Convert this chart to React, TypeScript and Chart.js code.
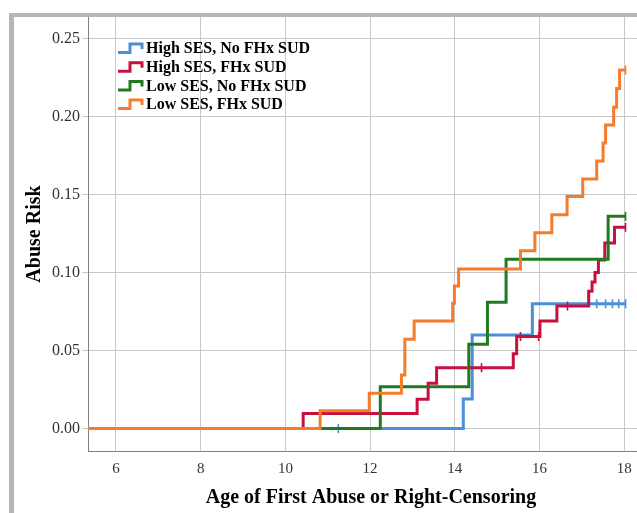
import React, { useEffect, useRef } from "react";
import { Chart, registerables } from "chart.js";

Chart.register(...registerables);

// ---- axes ----
const X_MIN = 5.34;
const X_MAX = 18.7;
const Y_MIN = -0.0144;
const Y_MAX = 0.2638;
const X_TICKS = [6, 8, 10, 12, 14, 16, 18];
const Y_TICKS = [0, 0.05, 0.1, 0.15, 0.2, 0.25];
const X_TITLE = "Age of First Abuse or Right-Censoring";
const Y_TITLE = "Abuse Risk";

// ---- series ----
const SERIES_LABELS = [
  "High SES, No FHx SUD",
  "High SES, FHx SUD",
  "Low SES, No FHx SUD",
  "Low SES, FHx SUD",
];
const SERIES_COLORS = ["#4a8fd8", "#c8103f", "#1f7a22", "#f47c2a"];

// event times and cumulative risk after each event
const BLUE_T = [14.2, 14.41, 15.83, 18.03];
const BLUE_Y = [0.019, 0.06, 0.08, 0.08];
const BLUE_CENSOR = [11.25, 17.35, 17.56, 17.72, 17.87, 18.03];

const RED_T = [10.42, 13.11, 13.37, 13.57, 15.38, 15.46, 16.01, 16.41, 17.16, 17.24, 17.31, 17.39, 17.54, 17.77, 18.03];
const RED_Y = [0.0097, 0.0187, 0.029, 0.039, 0.048, 0.059, 0.069, 0.0785, 0.088, 0.094, 0.1, 0.108, 0.119, 0.129, 0.129];
const RED_CENSOR = [14.63, 15.55, 15.98, 16.66, 18.03];

const GREEN_T = [12.24, 14.33, 14.77, 15.21, 17.62, 18.03];
const GREEN_Y = [0.0268, 0.054, 0.081, 0.1085, 0.136, 0.136];
const GREEN_CENSOR = [18.03];

const ORANGE_T = [10.82, 11.98, 12.74, 12.82, 13.04, 13.95, 13.99, 14.09, 15.55, 15.89, 16.29, 16.65, 17.02, 17.35, 17.5, 17.56, 17.75, 17.82, 17.89, 18.03];
const ORANGE_Y = [0.0114, 0.0226, 0.0343, 0.0572, 0.0689, 0.0803, 0.0913, 0.1022, 0.114, 0.1255, 0.137, 0.1487, 0.16, 0.1715, 0.183, 0.1946, 0.206, 0.218, 0.2298, 0.2298];
const ORANGE_CENSOR = [18.03];

const SERIES_T = [BLUE_T, RED_T, GREEN_T, ORANGE_T];
const SERIES_Y = [BLUE_Y, RED_Y, GREEN_Y, ORANGE_Y];
const SERIES_CENSOR = [BLUE_CENSOR, RED_CENSOR, GREEN_CENSOR, ORANGE_CENSOR];
const SERIES_ORDER = [3, 2, 1, 0];

const SERIF = "'Liberation Serif', 'Times New Roman', serif";

function stepValue(ts: number[], ys: number[], t: number): number {
  let v = 0;
  for (let i = 0; i < ts.length; i++) if (ts[i] <= t) v = ys[i];
  return v;
}

const framePlugin = {
  id: "frame",
  beforeDraw(chart: any) {
    const ctx = chart.ctx;
    ctx.save();
    ctx.fillStyle = "#b6b6b6";
    ctx.fillRect(9, 13, 5, 500);
    ctx.fillRect(9, 13, 660, 4);
    ctx.restore();
  },
};

const legendPlugin = {
  id: "kmLegend",
  afterDraw(chart: any) {
    const ctx = chart.ctx;
    ctx.save();
    const x0 = 118;
    const y0 = 49;
    const dy = 18.7;
    SERIES_LABELS.forEach((label, i) => {
      const c = y0 + i * dy;
      ctx.strokeStyle = SERIES_COLORS[i];
      ctx.lineWidth = 3;
      ctx.lineJoin = "miter";
      ctx.beginPath();
      ctx.moveTo(x0, c + 3.5);
      ctx.lineTo(x0 + 12, c + 3.5);
      ctx.lineTo(x0 + 12, c - 5);
      ctx.lineTo(x0 + 24, c - 5);
      ctx.lineTo(x0 + 24, c);
      ctx.stroke();
      ctx.fillStyle = "#000";
      ctx.font = `bold 16px ${SERIF}`;
      ctx.textBaseline = "middle";
      ctx.textAlign = "left";
      ctx.fillText(label, x0 + 28, c);
    });
    ctx.restore();
  },
};

export default function App() {
  const ref = useRef<HTMLCanvasElement | null>(null);

  useEffect(() => {
    if (!ref.current) return;
    const datasets: any[] = [];
    SERIES_LABELS.forEach((label, i) => {
      const pts = [{ x: X_MIN, y: 0 }].concat(
        SERIES_T[i].map((t, k) => ({ x: t, y: SERIES_Y[i][k] }))
      );
      datasets.push({
        label,
        data: pts,
        stepped: true,
        borderColor: SERIES_COLORS[i],
        borderWidth: 3,
        pointRadius: 0,
        fill: false,
        order: SERIES_ORDER[i],
      });
    });
    SERIES_LABELS.forEach((label, i) => {
      datasets.push({
        label: label + " censored",
        data: SERIES_CENSOR[i].map((t) => ({ x: t, y: stepValue(SERIES_T[i], SERIES_Y[i], t) })),
        showLine: false,
        pointStyle: "line",
        rotation: 90,
        pointRadius: 4.5,
        pointBorderWidth: 1.6,
        pointBorderColor: SERIES_COLORS[i],
        pointBackgroundColor: SERIES_COLORS[i],
        order: SERIES_ORDER[i],
      });
    });

    const chart = new Chart(ref.current, {
      type: "line",
      data: { datasets },
      plugins: [framePlugin, legendPlugin],
      options: {
        animation: false,
        responsive: false,
        devicePixelRatio: 1,
        layout: { padding: { top: 17, right: 4, left: 0, bottom: 0 } },
        plugins: { legend: { display: false }, tooltip: { enabled: false } },
        scales: {
          x: {
            type: "linear",
            min: X_MIN,
            max: X_MAX,
            afterBuildTicks: (s: any) => {
              s.ticks = X_TICKS.map((v) => ({ value: v }));
            },
            afterFit: (s: any) => {
              s.height = 62;
            },
            grid: { color: "#c8c8c8", lineWidth: 1, drawTicks: false },
            border: { color: "#808080", width: 1 },
            ticks: {
              color: "#333",
              padding: 9,
              font: { family: SERIF, size: 15 },
              callback: (v: any) => String(v),
            },
            title: {
              display: true,
              text: X_TITLE,
              color: "#000",
              font: { family: SERIF, size: 20, weight: "bold" },
              padding: { top: 0, bottom: 3 },
            },
          },
          y: {
            type: "linear",
            min: Y_MIN,
            max: Y_MAX,
            afterBuildTicks: (s: any) => {
              s.ticks = Y_TICKS.map((v) => ({ value: v }));
            },
            afterFit: (s: any) => {
              s.width = 88;
            },
            grid: { color: "#c8c8c8", lineWidth: 1, drawTicks: true, tickLength: 6 },
            border: { color: "#808080", width: 1 },
            ticks: {
              color: "#333",
              padding: 2,
              font: { family: SERIF, size: 16 },
              callback: (v: any) => Number(v).toFixed(2),
            },
            title: {
              display: true,
              text: Y_TITLE,
              color: "#000",
              font: { family: SERIF, size: 20, weight: "bold" },
              padding: { top: 23, bottom: 0 },
            },
          },
        },
      } as any,
    });
    return () => chart.destroy();
  }, []);

  return (
    <div
      style={{
        position: "fixed",
        left: 0,
        top: 0,
        width: 637,
        height: 513,
        overflow: "hidden",
        background: "#fff",
      }}
    >
      <canvas ref={ref} width={660} height={513} style={{ width: 660, height: 513, display: "block" }} />
    </div>
  );
}
